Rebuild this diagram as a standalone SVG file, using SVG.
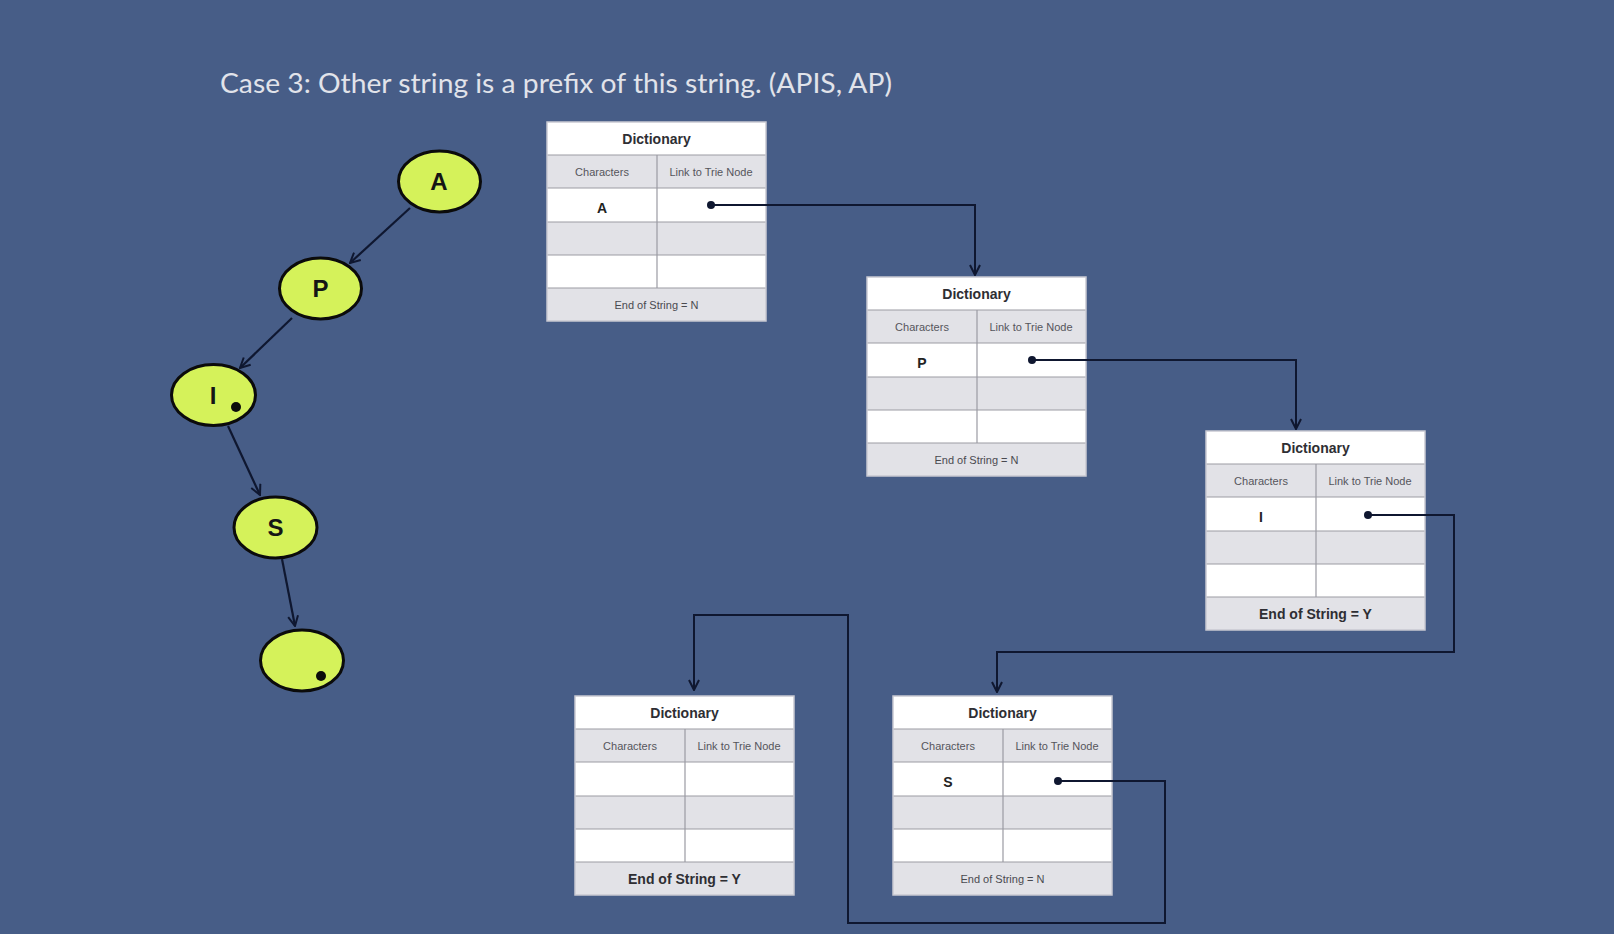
<svg xmlns="http://www.w3.org/2000/svg" width="1614" height="934" viewBox="0 0 1614 934">
<style>
.ttl{font-family:"Liberation Sans",Arial,sans-serif;font-weight:bold;font-size:14px;fill:#2e2e33;text-anchor:middle}
.hdr{font-family:"Liberation Sans",Arial,sans-serif;font-size:11px;fill:#55555c;text-anchor:middle}
.ch{font-family:"Liberation Sans",Arial,sans-serif;font-weight:bold;font-size:14px;fill:#222;text-anchor:middle}
.eos{font-family:"Liberation Sans",Arial,sans-serif;font-size:11px;fill:#4a4a50;text-anchor:middle}
.eosb{font-family:"Liberation Sans",Arial,sans-serif;font-weight:bold;font-size:14px;fill:#2e2e33;text-anchor:middle}
.cw{fill:#ffffff}
.cg{fill:#e2e2e7}
.grid{stroke:#9b9ba3;stroke-width:1.2;fill:none}
.frame{fill:none;stroke:#c9c9d2;stroke-width:1.5}
.tn ellipse{fill:#d5f25a;stroke:#0b0b0b;stroke-width:3}
.tn text{font-family:"Liberation Sans",Arial,sans-serif;font-weight:bold;font-size:24px;fill:#151515;text-anchor:middle}
.conn{stroke:#0f1730;stroke-width:2;fill:none}
.edge{stroke:#0f1730;stroke-width:2.2;fill:none}
.title{font-family:Lato,"Open Sans",sans-serif;font-size:26px;fill:#e1e3ea}
</style>
<defs>
<marker id="arr" viewBox="0 0 12 12" refX="11" refY="6" markerWidth="12" markerHeight="12" markerUnits="userSpaceOnUse" orient="auto">
<path d="M1,1 L11,6 L1,11" fill="none" stroke="#0f1730" stroke-width="2"/>
</marker>
<g id="dict">
<rect x="0" y="0" width="219" height="199" class="cw"/>
<rect x="0" y="33" width="219" height="33" class="cg"/>
<rect x="0" y="100" width="219" height="33" class="cg"/>
<rect x="0" y="166" width="219" height="33" class="cg"/>
<path class="grid" d="M0,33H219M0,66H219M0,100H219M0,133H219M0,166H219M110,33V166"/>
<rect x="0" y="0" width="219" height="199" class="frame"/>
<text x="109.5" y="22" class="ttl">Dictionary</text>
<text x="55" y="54" class="hdr">Characters</text>
<text x="164" y="54" class="hdr">Link to Trie Node</text>
</g>
</defs>
<rect x="0" y="0" width="1614" height="934" fill="#475d87"/>
<text x="220" y="93" class="title" textLength="672" lengthAdjust="spacingAndGlyphs">Case 3: Other string is a prefix of this string. (APIS, AP)</text>

<g id="trie-A" class="tn"><ellipse cx="439.5" cy="181.5" rx="41" ry="30.5"/><text x="439" y="190">A</text></g>
<g id="trie-P" class="tn"><ellipse cx="320.5" cy="288.5" rx="41" ry="30.5"/><text x="320.5" y="297">P</text></g>
<g id="trie-I" class="tn"><ellipse cx="213.5" cy="395" rx="42" ry="30.5"/><text x="213" y="404">I</text><circle cx="236" cy="407" r="5" fill="#0b0b0b"/></g>
<g id="trie-S" class="tn"><ellipse cx="275.5" cy="527.5" rx="41.5" ry="30.5"/><text x="275.5" y="536">S</text></g>
<g id="trie-end" class="tn"><ellipse cx="302" cy="660.5" rx="41.5" ry="30.5"/><circle cx="321" cy="676" r="5" fill="#0b0b0b"/></g>

<g id="dict-A" transform="translate(547,122)"><use href="#dict"/><text x="55" y="91" class="ch">A</text><text x="109.5" y="187" class="eos">End of String = N</text></g>
<g id="dict-P" transform="translate(867,277)"><use href="#dict"/><text x="55" y="91" class="ch">P</text><text x="109.5" y="187" class="eos">End of String = N</text></g>
<g id="dict-I" transform="translate(1206,431)"><use href="#dict"/><text x="55" y="91" class="ch">I</text><text x="109.5" y="188" class="eosb">End of String = Y</text></g>
<g id="dict-S" transform="translate(893,696)"><use href="#dict"/><text x="55" y="91" class="ch">S</text><text x="109.5" y="187" class="eos">End of String = N</text></g>
<g id="dict-end" transform="translate(575,696)"><use href="#dict"/><text x="109.5" y="188" class="eosb">End of String = Y</text></g>

<g id="connectors">
<path class="edge" d="M410,208 L350,263" marker-end="url(#arr)"/>
<path class="edge" d="M292,318 L240,368" marker-end="url(#arr)"/>
<path class="edge" d="M228,426 L260,495" marker-end="url(#arr)"/>
<path class="edge" d="M282,559 L295,626" marker-end="url(#arr)"/>
<circle cx="711" cy="205" r="4" fill="#0f1730"/>
<path class="conn" d="M711,205 H975 V275" marker-end="url(#arr)"/>
<circle cx="1032" cy="360" r="4" fill="#0f1730"/>
<path class="conn" d="M1032,360 H1296 V429" marker-end="url(#arr)"/>
<circle cx="1368" cy="515" r="4" fill="#0f1730"/>
<path class="conn" d="M1368,515 H1454 V652 H997 V692" marker-end="url(#arr)"/>
<circle cx="1058" cy="781" r="4" fill="#0f1730"/>
<path class="conn" d="M1058,781 H1165 V923 H848 V615 H694 V690" marker-end="url(#arr)"/>
</g>
</svg>
